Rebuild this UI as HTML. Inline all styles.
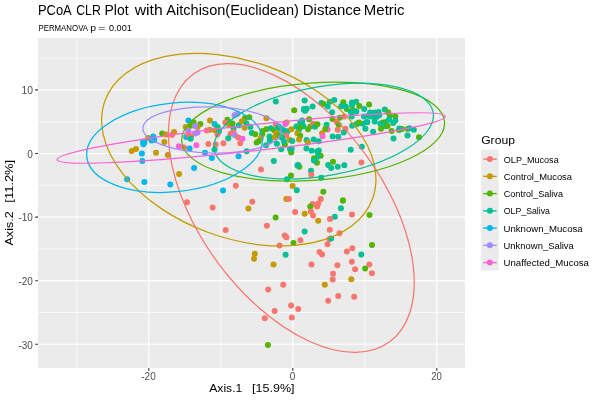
<!DOCTYPE html><html><head><meta charset="utf-8"><style>html,body{margin:0;padding:0;background:#fff;}svg{display:block;will-change:transform;}text{font-family:"Liberation Sans",sans-serif;}</style></head><body>
<svg width="600" height="400" viewBox="0 0 600 400">
<rect x="0" y="0" width="600" height="400" fill="#fff"/>
<rect x="38.0" y="38.1" width="427.0" height="329.8" fill="#EBEBEB"/>
<defs><clipPath id="pc"><rect x="38.0" y="38.1" width="427.0" height="329.8"/></clipPath></defs>
<path d="M76.80 38.1V367.9M220.80 38.1V367.9M364.80 38.1V367.9M38.0 58.11H465.0M38.0 121.70H465.0M38.0 185.30H465.0M38.0 248.88H465.0M38.0 312.48H465.0" stroke="#fff" stroke-width="0.7" fill="none"/>
<path d="M148.80 38.1V367.9M292.80 38.1V367.9M436.80 38.1V367.9M38.0 89.91H465.0M38.0 153.50H465.0M38.0 217.09H465.0M38.0 280.68H465.0M38.0 344.27H465.0" stroke="#fff" stroke-width="1.2" fill="none"/>
<g clip-path="url(#pc)">
<circle cx="148.1" cy="138.1" r="3" fill="#C49A00"/>
<circle cx="143.2" cy="141.9" r="3" fill="#00B6EB"/>
<circle cx="144.3" cy="142.5" r="3" fill="#00B6EB"/>
<circle cx="143.4" cy="144.2" r="3" fill="#00B6EB"/>
<circle cx="153.2" cy="136.4" r="3" fill="#00B6EB"/>
<circle cx="154.3" cy="140.1" r="3" fill="#00B6EB"/>
<circle cx="151.5" cy="140.4" r="3" fill="#00B6EB"/>
<circle cx="162.2" cy="133.4" r="3" fill="#53B400"/>
<circle cx="166.1" cy="134.5" r="3" fill="#C49A00"/>
<circle cx="174.0" cy="131.9" r="3" fill="#C49A00"/>
<circle cx="172.0" cy="135.0" r="3" fill="#F8766D"/>
<circle cx="164.4" cy="142.0" r="3" fill="#C49A00"/>
<circle cx="178.8" cy="146.3" r="3" fill="#FB61D7"/>
<circle cx="131.7" cy="151.0" r="3" fill="#C49A00"/>
<circle cx="136.0" cy="149.1" r="3" fill="#C49A00"/>
<circle cx="141.9" cy="153.4" r="3" fill="#00B6EB"/>
<circle cx="156.0" cy="152.7" r="3" fill="#C49A00"/>
<circle cx="167.8" cy="155.0" r="3" fill="#C49A00"/>
<circle cx="142.3" cy="161.0" r="3" fill="#00B6EB"/>
<circle cx="127.1" cy="179.3" r="3" fill="#00B6EB"/>
<circle cx="144.4" cy="182.1" r="3" fill="#00B6EB"/>
<circle cx="170.3" cy="184.4" r="3" fill="#00B6EB"/>
<circle cx="179.1" cy="174.1" r="3" fill="#C49A00"/>
<circle cx="187.0" cy="202.2" r="3" fill="#F8766D"/>
<circle cx="194.1" cy="168.0" r="3" fill="#00B6EB"/>
<circle cx="235.8" cy="185.7" r="3" fill="#F8766D"/>
<circle cx="223.0" cy="190.6" r="3" fill="#00B6EB"/>
<circle cx="212.6" cy="207.6" r="3" fill="#F8766D"/>
<circle cx="252.3" cy="201.7" r="3" fill="#F8766D"/>
<circle cx="248.4" cy="208.6" r="3" fill="#C49A00"/>
<circle cx="261.0" cy="169.4" r="3" fill="#F8766D"/>
<circle cx="188.5" cy="120.5" r="3" fill="#00B6EB"/>
<circle cx="193.6" cy="122.2" r="3" fill="#53B400"/>
<circle cx="190.4" cy="125.7" r="3" fill="#53B400"/>
<circle cx="200.3" cy="124.0" r="3" fill="#53B400"/>
<circle cx="197.5" cy="126.9" r="3" fill="#C49A00"/>
<circle cx="195.0" cy="126.1" r="3" fill="#A58AFF"/>
<circle cx="185.7" cy="127.1" r="3" fill="#C49A00"/>
<circle cx="188.3" cy="131.1" r="3" fill="#A58AFF"/>
<circle cx="195.0" cy="133.5" r="3" fill="#A58AFF"/>
<circle cx="197.5" cy="132.4" r="3" fill="#A58AFF"/>
<circle cx="186.2" cy="137.1" r="3" fill="#00B6EB"/>
<circle cx="188.4" cy="135.0" r="3" fill="#F8766D"/>
<circle cx="191.0" cy="136.5" r="3" fill="#F8766D"/>
<circle cx="190.6" cy="138.7" r="3" fill="#00C094"/>
<circle cx="210.0" cy="120.6" r="3" fill="#C49A00"/>
<circle cx="209.7" cy="129.8" r="3" fill="#C49A00"/>
<circle cx="206.7" cy="130.6" r="3" fill="#F8766D"/>
<circle cx="214.6" cy="123.9" r="3" fill="#00B6EB"/>
<circle cx="217.7" cy="126.9" r="3" fill="#00C094"/>
<circle cx="214.8" cy="130.2" r="3" fill="#C49A00"/>
<circle cx="218.9" cy="131.4" r="3" fill="#00C094"/>
<circle cx="217.4" cy="134.4" r="3" fill="#F8766D"/>
<circle cx="227.4" cy="119.8" r="3" fill="#53B400"/>
<circle cx="225.3" cy="122.5" r="3" fill="#F8766D"/>
<circle cx="229.1" cy="125.0" r="3" fill="#C49A00"/>
<circle cx="232.5" cy="123.6" r="3" fill="#53B400"/>
<circle cx="233.5" cy="128.6" r="3" fill="#00C094"/>
<circle cx="234.5" cy="115.3" r="3" fill="#A58AFF"/>
<circle cx="237.5" cy="113.8" r="3" fill="#A58AFF"/>
<circle cx="230.6" cy="133.7" r="3" fill="#F8766D"/>
<circle cx="233.5" cy="132.1" r="3" fill="#F8766D"/>
<circle cx="228.3" cy="138.2" r="3" fill="#00C094"/>
<circle cx="235.0" cy="135.3" r="3" fill="#A58AFF"/>
<circle cx="184.0" cy="147.4" r="3" fill="#F8766D"/>
<circle cx="196.4" cy="145.2" r="3" fill="#FB61D7"/>
<circle cx="189.6" cy="148.5" r="3" fill="#00B6EB"/>
<circle cx="208.4" cy="144.0" r="3" fill="#F8766D"/>
<circle cx="215.7" cy="144.6" r="3" fill="#F8766D"/>
<circle cx="223.4" cy="143.3" r="3" fill="#F8766D"/>
<circle cx="214.5" cy="149.6" r="3" fill="#00C094"/>
<circle cx="205.0" cy="152.8" r="3" fill="#00B6EB"/>
<circle cx="211.8" cy="157.9" r="3" fill="#00B6EB"/>
<circle cx="238.5" cy="156.3" r="3" fill="#00B6EB"/>
<circle cx="240.2" cy="143.3" r="3" fill="#F8766D"/>
<circle cx="238.3" cy="137.6" r="3" fill="#F8766D"/>
<circle cx="242.5" cy="138.8" r="3" fill="#FB61D7"/>
<circle cx="238.9" cy="125.3" r="3" fill="#00C094"/>
<circle cx="246.6" cy="151.3" r="3" fill="#00C094"/>
<circle cx="275.8" cy="101.4" r="3" fill="#00C094"/>
<circle cx="304.7" cy="100.4" r="3" fill="#00C094"/>
<circle cx="294.2" cy="110.3" r="3" fill="#53B400"/>
<circle cx="304.1" cy="110.0" r="3" fill="#00C094"/>
<circle cx="306.7" cy="108.8" r="3" fill="#00C094"/>
<circle cx="245.0" cy="118.1" r="3" fill="#53B400"/>
<circle cx="249.2" cy="117.3" r="3" fill="#53B400"/>
<circle cx="241.9" cy="121.2" r="3" fill="#C49A00"/>
<circle cx="266.4" cy="118.2" r="3" fill="#C49A00"/>
<circle cx="246.4" cy="123.6" r="3" fill="#00C094"/>
<circle cx="250.4" cy="127.1" r="3" fill="#00C094"/>
<circle cx="244.6" cy="127.8" r="3" fill="#C49A00"/>
<circle cx="275.8" cy="124.3" r="3" fill="#F8766D"/>
<circle cx="286.5" cy="122.5" r="3" fill="#C49A00"/>
<circle cx="285.3" cy="123.9" r="3" fill="#FB61D7"/>
<circle cx="251.8" cy="133.0" r="3" fill="#00C094"/>
<circle cx="255.3" cy="134.3" r="3" fill="#53B400"/>
<circle cx="262.5" cy="131.0" r="3" fill="#53B400"/>
<circle cx="266.3" cy="129.2" r="3" fill="#53B400"/>
<circle cx="270.8" cy="128.2" r="3" fill="#00C094"/>
<circle cx="274.0" cy="130.3" r="3" fill="#53B400"/>
<circle cx="276.6" cy="129.8" r="3" fill="#00C094"/>
<circle cx="276.4" cy="132.7" r="3" fill="#C49A00"/>
<circle cx="262.2" cy="134.3" r="3" fill="#53B400"/>
<circle cx="260.8" cy="138.0" r="3" fill="#C49A00"/>
<circle cx="258.6" cy="141.2" r="3" fill="#53B400"/>
<circle cx="256.6" cy="142.5" r="3" fill="#53B400"/>
<circle cx="269.5" cy="136.4" r="3" fill="#00C094"/>
<circle cx="269.9" cy="140.5" r="3" fill="#00C094"/>
<circle cx="275.0" cy="137.0" r="3" fill="#53B400"/>
<circle cx="275.0" cy="137.2" r="3" fill="#C49A00"/>
<circle cx="266.0" cy="145.2" r="3" fill="#00C094"/>
<circle cx="276.9" cy="143.7" r="3" fill="#00C094"/>
<circle cx="278.7" cy="126.5" r="3" fill="#00C094"/>
<circle cx="281.2" cy="128.9" r="3" fill="#00C094"/>
<circle cx="283.6" cy="130.3" r="3" fill="#00C094"/>
<circle cx="287.5" cy="131.3" r="3" fill="#00C094"/>
<circle cx="285.6" cy="132.6" r="3" fill="#00C094"/>
<circle cx="286.2" cy="135.5" r="3" fill="#F8766D"/>
<circle cx="279.5" cy="135.2" r="3" fill="#53B400"/>
<circle cx="282.0" cy="137.8" r="3" fill="#00C094"/>
<circle cx="289.8" cy="140.1" r="3" fill="#C49A00"/>
<circle cx="292.3" cy="141.0" r="3" fill="#00C094"/>
<circle cx="284.9" cy="144.6" r="3" fill="#53B400"/>
<circle cx="283.9" cy="141.2" r="3" fill="#00C094"/>
<circle cx="281.2" cy="149.3" r="3" fill="#00C094"/>
<circle cx="290.0" cy="149.0" r="3" fill="#00C094"/>
<circle cx="291.6" cy="148.8" r="3" fill="#00C094"/>
<circle cx="291.2" cy="152.5" r="3" fill="#53B400"/>
<circle cx="291.4" cy="129.3" r="3" fill="#C49A00"/>
<circle cx="296.4" cy="126.4" r="3" fill="#00C094"/>
<circle cx="302.0" cy="122.0" r="3" fill="#00C094"/>
<circle cx="303.4" cy="126.3" r="3" fill="#00C094"/>
<circle cx="299.0" cy="129.7" r="3" fill="#00C094"/>
<circle cx="300.0" cy="127.0" r="3" fill="#53B400"/>
<circle cx="308.0" cy="129.2" r="3" fill="#53B400"/>
<circle cx="310.4" cy="126.4" r="3" fill="#53B400"/>
<circle cx="297.4" cy="133.3" r="3" fill="#C49A00"/>
<circle cx="300.2" cy="135.7" r="3" fill="#53B400"/>
<circle cx="299.0" cy="139.5" r="3" fill="#C49A00"/>
<circle cx="306.6" cy="140.1" r="3" fill="#00C094"/>
<circle cx="308.0" cy="142.4" r="3" fill="#C49A00"/>
<circle cx="306.4" cy="148.6" r="3" fill="#00C094"/>
<circle cx="303.9" cy="109.1" r="3" fill="#00C094"/>
<circle cx="305.1" cy="110.8" r="3" fill="#00C094"/>
<circle cx="312.6" cy="106.5" r="3" fill="#00C094"/>
<circle cx="321.4" cy="102.9" r="3" fill="#00C094"/>
<circle cx="323.6" cy="104.1" r="3" fill="#53B400"/>
<circle cx="327.7" cy="106.6" r="3" fill="#00C094"/>
<circle cx="329.8" cy="101.8" r="3" fill="#00C094"/>
<circle cx="334.3" cy="100.0" r="3" fill="#00C094"/>
<circle cx="332.1" cy="112.3" r="3" fill="#00C094"/>
<circle cx="343.3" cy="102.2" r="3" fill="#53B400"/>
<circle cx="346.7" cy="109.1" r="3" fill="#53B400"/>
<circle cx="341.2" cy="106.2" r="3" fill="#00C094"/>
<circle cx="345.6" cy="106.4" r="3" fill="#00C094"/>
<circle cx="351.9" cy="102.6" r="3" fill="#00C094"/>
<circle cx="356.1" cy="101.7" r="3" fill="#00C094"/>
<circle cx="352.0" cy="105.2" r="3" fill="#00C094"/>
<circle cx="359.3" cy="106.0" r="3" fill="#53B400"/>
<circle cx="352.9" cy="110.2" r="3" fill="#53B400"/>
<circle cx="350.7" cy="111.9" r="3" fill="#00C094"/>
<circle cx="355.5" cy="111.6" r="3" fill="#00C094"/>
<circle cx="351.7" cy="116.5" r="3" fill="#00C094"/>
<circle cx="344.0" cy="116.5" r="3" fill="#F8766D"/>
<circle cx="339.7" cy="117.7" r="3" fill="#53B400"/>
<circle cx="332.5" cy="119.1" r="3" fill="#53B400"/>
<circle cx="309.1" cy="119.3" r="3" fill="#53B400"/>
<circle cx="302.1" cy="120.6" r="3" fill="#00C094"/>
<circle cx="300.2" cy="122.5" r="3" fill="#00C094"/>
<circle cx="313.1" cy="123.7" r="3" fill="#F8766D"/>
<circle cx="315.0" cy="126.8" r="3" fill="#00C094"/>
<circle cx="317.4" cy="124.3" r="3" fill="#53B400"/>
<circle cx="326.6" cy="124.8" r="3" fill="#00C094"/>
<circle cx="327.6" cy="129.4" r="3" fill="#FB61D7"/>
<circle cx="325.3" cy="129.1" r="3" fill="#53B400"/>
<circle cx="336.7" cy="121.9" r="3" fill="#F8766D"/>
<circle cx="338.8" cy="125.0" r="3" fill="#53B400"/>
<circle cx="337.7" cy="129.8" r="3" fill="#F8766D"/>
<circle cx="345.4" cy="128.7" r="3" fill="#F8766D"/>
<circle cx="343.7" cy="132.6" r="3" fill="#00C094"/>
<circle cx="352.2" cy="125.7" r="3" fill="#00C094"/>
<circle cx="356.1" cy="124.3" r="3" fill="#00C094"/>
<circle cx="358.7" cy="122.9" r="3" fill="#53B400"/>
<circle cx="322.1" cy="133.3" r="3" fill="#C49A00"/>
<circle cx="322.6" cy="136.2" r="3" fill="#FB61D7"/>
<circle cx="362.7" cy="123.7" r="3" fill="#00C094"/>
<circle cx="366.5" cy="122.2" r="3" fill="#00C094"/>
<circle cx="365.4" cy="128.8" r="3" fill="#00C094"/>
<circle cx="332.7" cy="136.4" r="3" fill="#00C094"/>
<circle cx="338.3" cy="136.7" r="3" fill="#00C094"/>
<circle cx="313.7" cy="139.4" r="3" fill="#00C094"/>
<circle cx="318.7" cy="141.2" r="3" fill="#00C094"/>
<circle cx="369.1" cy="104.6" r="3" fill="#53B400"/>
<circle cx="364.2" cy="109.1" r="3" fill="#00C094"/>
<circle cx="356.4" cy="111.6" r="3" fill="#00C094"/>
<circle cx="370.2" cy="112.4" r="3" fill="#00C094"/>
<circle cx="374.7" cy="112.4" r="3" fill="#00C094"/>
<circle cx="378.6" cy="111.9" r="3" fill="#00C094"/>
<circle cx="364.0" cy="116.4" r="3" fill="#00C094"/>
<circle cx="368.3" cy="115.7" r="3" fill="#00C094"/>
<circle cx="371.3" cy="116.4" r="3" fill="#00C094"/>
<circle cx="376.4" cy="116.9" r="3" fill="#00C094"/>
<circle cx="379.2" cy="115.2" r="3" fill="#00C094"/>
<circle cx="384.8" cy="109.6" r="3" fill="#00C094"/>
<circle cx="388.3" cy="112.4" r="3" fill="#53B400"/>
<circle cx="389.9" cy="115.8" r="3" fill="#53B400"/>
<circle cx="395.3" cy="116.4" r="3" fill="#53B400"/>
<circle cx="389.0" cy="119.6" r="3" fill="#00C094"/>
<circle cx="395.3" cy="120.6" r="3" fill="#00C094"/>
<circle cx="393.2" cy="123.1" r="3" fill="#00C094"/>
<circle cx="385.9" cy="122.0" r="3" fill="#00C094"/>
<circle cx="382.6" cy="122.6" r="3" fill="#53B400"/>
<circle cx="380.3" cy="123.7" r="3" fill="#00C094"/>
<circle cx="385.5" cy="126.3" r="3" fill="#00C094"/>
<circle cx="387.6" cy="125.9" r="3" fill="#53B400"/>
<circle cx="374.7" cy="121.4" r="3" fill="#00C094"/>
<circle cx="367.4" cy="122.0" r="3" fill="#00C094"/>
<circle cx="356.7" cy="124.2" r="3" fill="#00C094"/>
<circle cx="358.9" cy="122.6" r="3" fill="#53B400"/>
<circle cx="381.0" cy="128.7" r="3" fill="#53B400"/>
<circle cx="373.1" cy="131.8" r="3" fill="#00C094"/>
<circle cx="391.6" cy="131.1" r="3" fill="#53B400"/>
<circle cx="399.0" cy="130.0" r="3" fill="#53B400"/>
<circle cx="402.0" cy="128.9" r="3" fill="#53B400"/>
<circle cx="399.3" cy="128.4" r="3" fill="#00C094"/>
<circle cx="407.6" cy="128.9" r="3" fill="#53B400"/>
<circle cx="409.5" cy="128.3" r="3" fill="#00C094"/>
<circle cx="413.8" cy="129.8" r="3" fill="#00C094"/>
<circle cx="407.5" cy="135.5" r="3" fill="#00C094"/>
<circle cx="393.5" cy="138.6" r="3" fill="#00C094"/>
<circle cx="419.0" cy="137.3" r="3" fill="#53B400"/>
<circle cx="361.8" cy="146.7" r="3" fill="#00C094"/>
<circle cx="361.4" cy="162.5" r="3" fill="#F8766D"/>
<circle cx="291.4" cy="148.8" r="3" fill="#00C094"/>
<circle cx="311.7" cy="150.7" r="3" fill="#00C094"/>
<circle cx="317.3" cy="151.5" r="3" fill="#00C094"/>
<circle cx="318.8" cy="150.5" r="3" fill="#00C094"/>
<circle cx="320.7" cy="155.7" r="3" fill="#53B400"/>
<circle cx="317.7" cy="156.7" r="3" fill="#00C094"/>
<circle cx="314.0" cy="158.2" r="3" fill="#53B400"/>
<circle cx="317.0" cy="162.7" r="3" fill="#53B400"/>
<circle cx="314.0" cy="160.5" r="3" fill="#00C094"/>
<circle cx="350.7" cy="149.7" r="3" fill="#00C094"/>
<circle cx="298.2" cy="165.0" r="3" fill="#00C094"/>
<circle cx="299.3" cy="166.8" r="3" fill="#53B400"/>
<circle cx="328.2" cy="165.0" r="3" fill="#00C094"/>
<circle cx="333.0" cy="161.7" r="3" fill="#53B400"/>
<circle cx="331.2" cy="168.0" r="3" fill="#00C094"/>
<circle cx="337.7" cy="166.8" r="3" fill="#00C094"/>
<circle cx="344.3" cy="165.3" r="3" fill="#00C094"/>
<circle cx="311.0" cy="170.7" r="3" fill="#00C094"/>
<circle cx="311.3" cy="174.7" r="3" fill="#F8766D"/>
<circle cx="291.0" cy="175.6" r="3" fill="#53B400"/>
<circle cx="287.0" cy="179.3" r="3" fill="#00C094"/>
<circle cx="321.2" cy="177.7" r="3" fill="#00C094"/>
<circle cx="292.6" cy="186.1" r="3" fill="#C49A00"/>
<circle cx="296.8" cy="190.2" r="3" fill="#00C094"/>
<circle cx="323.3" cy="191.8" r="3" fill="#53B400"/>
<circle cx="273.8" cy="161.0" r="3" fill="#00C094"/>
<circle cx="297.5" cy="165.5" r="3" fill="#00C094"/>
<circle cx="286.3" cy="199.1" r="3" fill="#C49A00"/>
<circle cx="288.9" cy="199.1" r="3" fill="#F8766D"/>
<circle cx="320.8" cy="199.1" r="3" fill="#F8766D"/>
<circle cx="318.2" cy="203.6" r="3" fill="#F8766D"/>
<circle cx="312.6" cy="204.1" r="3" fill="#F8766D"/>
<circle cx="317.1" cy="206.6" r="3" fill="#F8766D"/>
<circle cx="310.3" cy="206.6" r="3" fill="#53B400"/>
<circle cx="310.9" cy="211.4" r="3" fill="#F8766D"/>
<circle cx="313.1" cy="215.6" r="3" fill="#F8766D"/>
<circle cx="295.1" cy="212.0" r="3" fill="#F8766D"/>
<circle cx="304.7" cy="213.7" r="3" fill="#C49A00"/>
<circle cx="318.2" cy="220.8" r="3" fill="#C49A00"/>
<circle cx="342.9" cy="200.5" r="3" fill="#53B400"/>
<circle cx="340.9" cy="208.3" r="3" fill="#00C094"/>
<circle cx="334.8" cy="216.8" r="3" fill="#00C094"/>
<circle cx="330.0" cy="219.0" r="3" fill="#F8766D"/>
<circle cx="329.8" cy="229.8" r="3" fill="#F8766D"/>
<circle cx="304.6" cy="231.6" r="3" fill="#00C094"/>
<circle cx="300.4" cy="240.2" r="3" fill="#F8766D"/>
<circle cx="293.5" cy="242.9" r="3" fill="#53B400"/>
<circle cx="339.5" cy="233.3" r="3" fill="#F8766D"/>
<circle cx="329.4" cy="239.1" r="3" fill="#F8766D"/>
<circle cx="331.1" cy="238.6" r="3" fill="#00C094"/>
<circle cx="327.5" cy="244.3" r="3" fill="#F8766D"/>
<circle cx="319.5" cy="251.9" r="3" fill="#F8766D"/>
<circle cx="322.1" cy="254.5" r="3" fill="#F8766D"/>
<circle cx="311.5" cy="264.4" r="3" fill="#F8766D"/>
<circle cx="337.4" cy="265.2" r="3" fill="#F8766D"/>
<circle cx="346.9" cy="251.5" r="3" fill="#F8766D"/>
<circle cx="285.6" cy="254.7" r="3" fill="#00C094"/>
<circle cx="275.6" cy="217.5" r="3" fill="#53B400"/>
<circle cx="266.9" cy="225.7" r="3" fill="#F8766D"/>
<circle cx="225.7" cy="230.0" r="3" fill="#F8766D"/>
<circle cx="284.7" cy="235.4" r="3" fill="#F8766D"/>
<circle cx="286.4" cy="237.3" r="3" fill="#F8766D"/>
<circle cx="279.5" cy="245.4" r="3" fill="#F8766D"/>
<circle cx="254.8" cy="253.7" r="3" fill="#C49A00"/>
<circle cx="254.0" cy="258.8" r="3" fill="#C49A00"/>
<circle cx="273.5" cy="264.5" r="3" fill="#C49A00"/>
<circle cx="283.2" cy="284.8" r="3" fill="#F8766D"/>
<circle cx="268.2" cy="289.5" r="3" fill="#F8766D"/>
<circle cx="291.1" cy="305.4" r="3" fill="#F8766D"/>
<circle cx="298.2" cy="309.1" r="3" fill="#F8766D"/>
<circle cx="274.6" cy="310.9" r="3" fill="#F8766D"/>
<circle cx="264.8" cy="318.3" r="3" fill="#F8766D"/>
<circle cx="291.8" cy="317.4" r="3" fill="#F8766D"/>
<circle cx="267.9" cy="345.1" r="3" fill="#53B400"/>
<circle cx="332.7" cy="279.6" r="3" fill="#F8766D"/>
<circle cx="324.8" cy="284.7" r="3" fill="#C49A00"/>
<circle cx="351.3" cy="279.2" r="3" fill="#C49A00"/>
<circle cx="328.2" cy="300.8" r="3" fill="#F8766D"/>
<circle cx="338.2" cy="295.9" r="3" fill="#F8766D"/>
<circle cx="354.2" cy="296.7" r="3" fill="#F8766D"/>
<circle cx="352.0" cy="214.5" r="3" fill="#F8766D"/>
<circle cx="369.5" cy="215.0" r="3" fill="#53B400"/>
<circle cx="343.0" cy="200.5" r="3" fill="#53B400"/>
<circle cx="352.3" cy="248.2" r="3" fill="#F8766D"/>
<circle cx="361.3" cy="254.6" r="3" fill="#00C094"/>
<circle cx="351.8" cy="261.8" r="3" fill="#F8766D"/>
<circle cx="355.1" cy="269.3" r="3" fill="#F8766D"/>
<circle cx="369.3" cy="264.4" r="3" fill="#F8766D"/>
<circle cx="365.2" cy="268.4" r="3" fill="#53B400"/>
<circle cx="371.9" cy="273.3" r="3" fill="#F8766D"/>
<circle cx="333.0" cy="273.7" r="3" fill="#F8766D"/>
<circle cx="372.0" cy="245.0" r="3" fill="#53B400"/>
</g>
<g clip-path="url(#pc)" fill="none" stroke-width="1.25">
<ellipse cx="238.78" cy="149.72" rx="88.19" ry="142.48" transform="rotate(110.16 238.78 149.72)" stroke="#C49A00"/>
<ellipse cx="291.34" cy="208.04" rx="91.57" ry="165.98" transform="rotate(143.69 291.34 208.04)" stroke="#F8766D"/>
<ellipse cx="313.17" cy="131.67" rx="48.61" ry="131.76" transform="rotate(85.74 313.17 131.67)" stroke="#53B400"/>
<ellipse cx="323.75" cy="131.08" rx="44.58" ry="111.02" transform="rotate(80.38 323.75 131.08)" stroke="#00C094"/>
<ellipse cx="174.52" cy="147.39" rx="44.33" ry="88.23" transform="rotate(83.80 174.52 147.39)" stroke="#00B6EB"/>
<ellipse cx="212.03" cy="129.95" rx="69.13" ry="23.10" transform="rotate(-178.62 212.03 129.95)" stroke="#A58AFF"/>
<ellipse cx="251.26" cy="138.00" rx="13.00" ry="195.21" transform="rotate(83.64 251.26 138.00)" stroke="#FB61D7"/>
</g>
<path d="M148.80 367.9v2.8M292.80 367.9v2.8M436.80 367.9v2.8M38.0 89.91h-2.8M38.0 153.50h-2.8M38.0 217.09h-2.8M38.0 280.68h-2.8M38.0 344.27h-2.8" stroke="#333" stroke-width="1.1" fill="none"/>
<text x="148.50" y="380.3" font-size="10" fill="#4D4D4D" text-anchor="middle" textLength="14.4" lengthAdjust="spacingAndGlyphs">-20</text>
<text x="292.50" y="380.3" font-size="10" fill="#4D4D4D" text-anchor="middle" textLength="5.6" lengthAdjust="spacingAndGlyphs">0</text>
<text x="436.50" y="380.3" font-size="10" fill="#4D4D4D" text-anchor="middle" textLength="10.6" lengthAdjust="spacingAndGlyphs">20</text>
<text x="32.9" y="94.21" font-size="10" fill="#4D4D4D" text-anchor="end" textLength="11.5" lengthAdjust="spacingAndGlyphs">10</text>
<text x="32.9" y="157.80" font-size="10" fill="#4D4D4D" text-anchor="end" textLength="5.6" lengthAdjust="spacingAndGlyphs">0</text>
<text x="32.9" y="221.39" font-size="10" fill="#4D4D4D" text-anchor="end" textLength="14.4" lengthAdjust="spacingAndGlyphs">-10</text>
<text x="32.9" y="284.98" font-size="10" fill="#4D4D4D" text-anchor="end" textLength="14.4" lengthAdjust="spacingAndGlyphs">-20</text>
<text x="32.9" y="348.57" font-size="10" fill="#4D4D4D" text-anchor="end" textLength="14.4" lengthAdjust="spacingAndGlyphs">-30</text>
<text x="209.20" y="392.3" font-size="11.6" fill="#000" textLength="33.12" lengthAdjust="spacingAndGlyphs">Axis.1</text>
<text x="252.14" y="392.3" font-size="11.6" fill="#000" textLength="42.47" lengthAdjust="spacingAndGlyphs">[15.9%]</text>
<g transform="translate(13.4 0) rotate(-90)">
<text x="-245.50" y="0" font-size="11.6" fill="#000" textLength="34.14" lengthAdjust="spacingAndGlyphs">Axis.2</text>
<text x="-202.69" y="0" font-size="11.6" fill="#000" textLength="42.86" lengthAdjust="spacingAndGlyphs">[11.2%]</text>
</g>
<text x="37.95" y="15.1" font-size="14.8" fill="#000" textLength="33.82" lengthAdjust="spacingAndGlyphs">PCoA</text>
<text x="76.22" y="15.1" font-size="14.8" fill="#000" textLength="24.57" lengthAdjust="spacingAndGlyphs">CLR</text>
<text x="104.57" y="15.1" font-size="14.8" fill="#000" textLength="24.03" lengthAdjust="spacingAndGlyphs">Plot</text>
<text x="134.70" y="15.1" font-size="14.8" fill="#000" textLength="27.98" lengthAdjust="spacingAndGlyphs">with</text>
<text x="166.30" y="15.1" font-size="14.8" fill="#000" textLength="132.60" lengthAdjust="spacingAndGlyphs">Aitchison(Euclidean)</text>
<text x="302.78" y="15.1" font-size="14.8" fill="#000" textLength="58.30" lengthAdjust="spacingAndGlyphs">Distance</text>
<text x="363.89" y="15.1" font-size="14.8" fill="#000" textLength="40.71" lengthAdjust="spacingAndGlyphs">Metric</text>
<text x="38.41" y="30.9" font-size="9.3" fill="#000" textLength="49.62" lengthAdjust="spacingAndGlyphs">PERMANOVA</text>
<text x="90.33" y="30.9" font-size="9.3" fill="#000" textLength="5.79" lengthAdjust="spacingAndGlyphs">p</text>
<text x="97.96" y="30.9" font-size="9.3" fill="#000" textLength="7.32" lengthAdjust="spacingAndGlyphs">=</text>
<text x="109.01" y="30.9" font-size="9.3" fill="#000" textLength="22.76" lengthAdjust="spacingAndGlyphs">0.001</text>
<text x="481.16" y="143.9" font-size="11.3" fill="#000" textLength="33.77" lengthAdjust="spacingAndGlyphs">Group</text>
<rect x="481" y="149.8" width="17.7" height="120.8" fill="#EBEBEB"/>
<path d="M483.2 159.10H496.7" stroke="#F8766D" stroke-width="1.4"/>
<circle cx="489.9" cy="159.10" r="3" fill="#F8766D"/>
<text x="503.83" y="162.80" font-size="9.7" fill="#000" textLength="54.84" lengthAdjust="spacingAndGlyphs">OLP_Mucosa</text>
<path d="M483.2 176.35H496.7" stroke="#C49A00" stroke-width="1.4"/>
<circle cx="489.9" cy="176.35" r="3" fill="#C49A00"/>
<text x="503.72" y="180.03" font-size="9.7" fill="#000" textLength="68.31" lengthAdjust="spacingAndGlyphs">Control_Mucosa</text>
<path d="M483.2 193.60H496.7" stroke="#53B400" stroke-width="1.4"/>
<circle cx="489.9" cy="193.60" r="3" fill="#53B400"/>
<text x="503.73" y="197.26" font-size="9.7" fill="#000" textLength="59.25" lengthAdjust="spacingAndGlyphs">Control_Saliva</text>
<path d="M483.2 210.85H496.7" stroke="#00C094" stroke-width="1.4"/>
<circle cx="489.9" cy="210.85" r="3" fill="#00C094"/>
<text x="503.84" y="214.49" font-size="9.7" fill="#000" textLength="46.08" lengthAdjust="spacingAndGlyphs">OLP_Saliva</text>
<path d="M483.2 228.10H496.7" stroke="#00B6EB" stroke-width="1.4"/>
<circle cx="489.9" cy="228.10" r="3" fill="#00B6EB"/>
<text x="503.51" y="231.72" font-size="9.7" fill="#000" textLength="79.19" lengthAdjust="spacingAndGlyphs">Unknown_Mucosa</text>
<path d="M483.2 245.35H496.7" stroke="#A58AFF" stroke-width="1.4"/>
<circle cx="489.9" cy="245.35" r="3" fill="#A58AFF"/>
<text x="503.52" y="248.95" font-size="9.7" fill="#000" textLength="70.34" lengthAdjust="spacingAndGlyphs">Unknown_Saliva</text>
<path d="M483.2 262.60H496.7" stroke="#FB61D7" stroke-width="1.4"/>
<circle cx="489.9" cy="262.60" r="3" fill="#FB61D7"/>
<text x="503.50" y="266.18" font-size="9.7" fill="#000" textLength="85.49" lengthAdjust="spacingAndGlyphs">Unaffected_Mucosa</text>
</svg></body></html>
